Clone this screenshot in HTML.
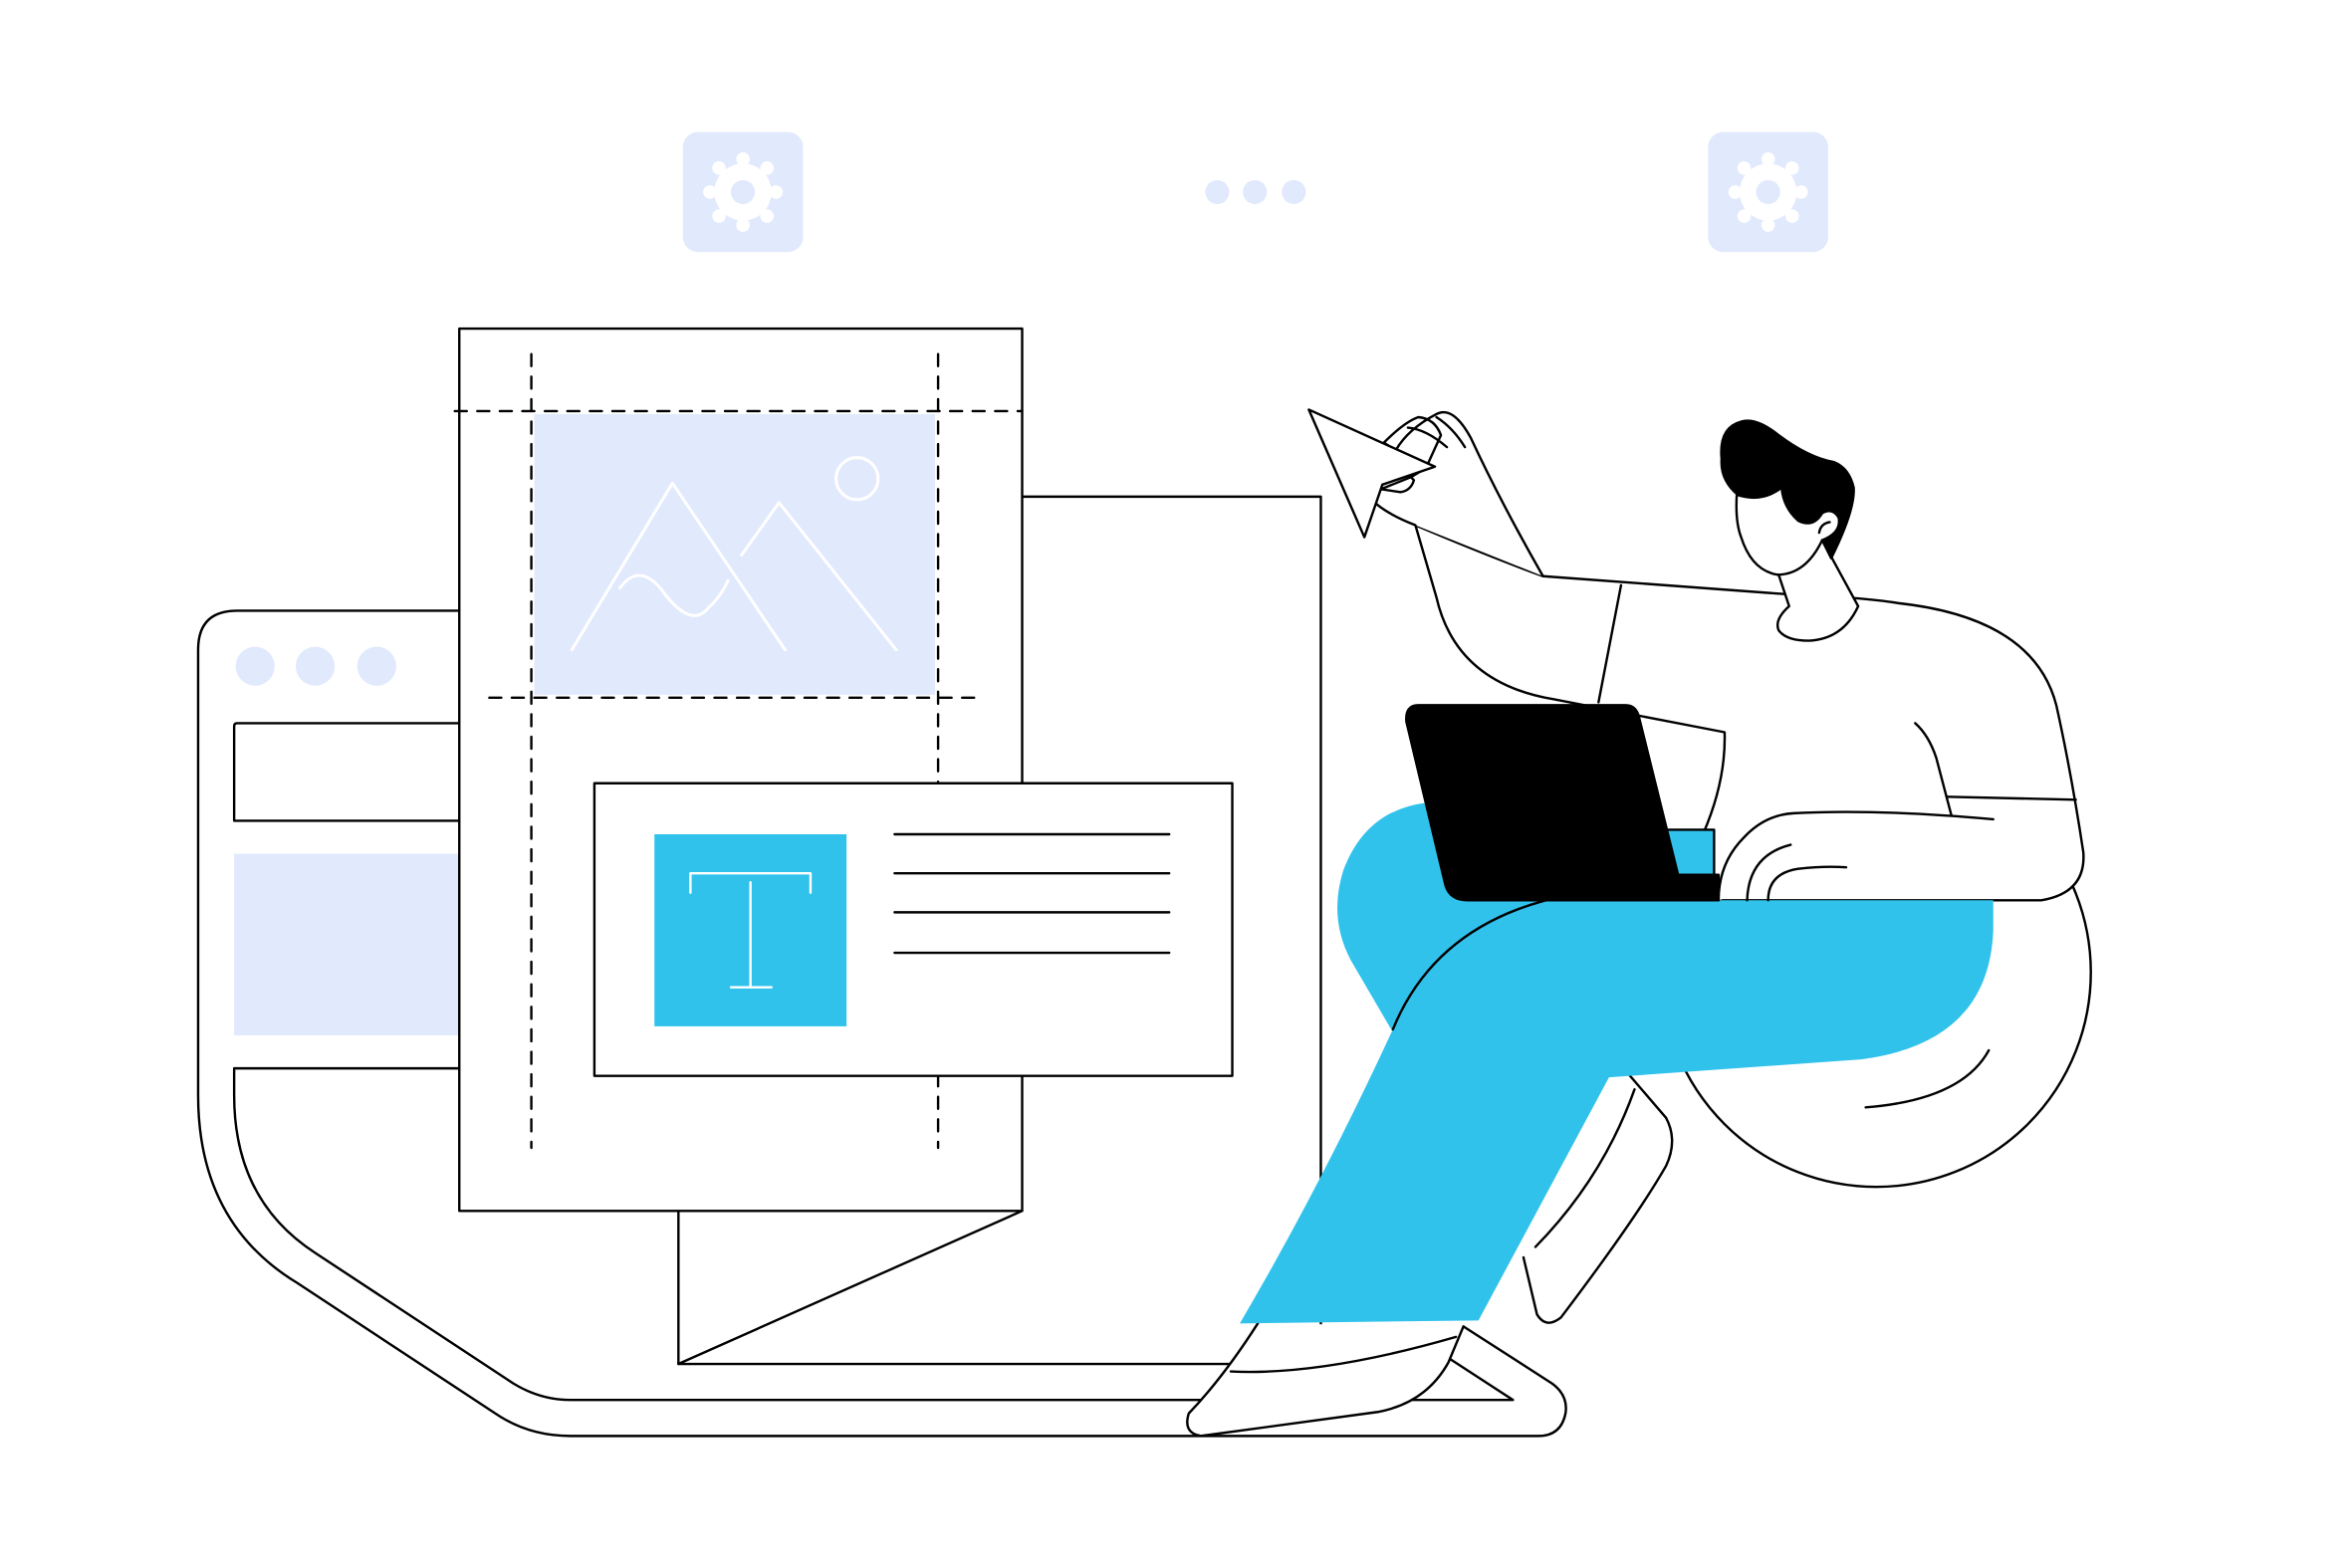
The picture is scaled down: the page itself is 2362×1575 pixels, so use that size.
<!DOCTYPE html>
<html><head><meta charset="utf-8"><style>html,body{margin:0;padding:0;background:#fff}svg{display:block}</style></head>
<body>
<svg width="2362" height="1575" viewBox="0 0 1567 1045" preserveAspectRatio="none" xmlns="http://www.w3.org/2000/svg" fill="none" stroke="#000" stroke-width="1.6" stroke-linejoin="round" stroke-linecap="round">
<!-- top icons -->
<g>
<rect x="455" y="88" width="80" height="80" rx="10" fill="#e1e9fd" stroke="none"/>
<rect x="1138" y="88" width="80" height="80" rx="10" fill="#e1e9fd" stroke="none"/>
<g id="g1" fill="#fff" stroke="none">
<circle cx="495" cy="128" r="19"/>
<circle cx="495" cy="106" r="4.5"/><circle cx="495" cy="150" r="4.5"/><circle cx="473" cy="128" r="4.5"/><circle cx="517" cy="128" r="4.5"/>
<circle cx="479" cy="112" r="4.5"/><circle cx="511" cy="112" r="4.5"/><circle cx="479" cy="144" r="4.5"/><circle cx="511" cy="144" r="4.5"/>
<circle cx="495" cy="128" r="8" fill="#e1e9fd"/>
</g>
<use href="#g1" transform="translate(683,0)"/>
<circle cx="811" cy="128" r="8" fill="#e1e9fd" stroke="none"/>
<circle cx="836" cy="128" r="8" fill="#e1e9fd" stroke="none"/>
<circle cx="862" cy="128" r="8" fill="#e1e9fd" stroke="none"/>
</g>
<!-- base device -->
<path d="M306 407 H158 Q132 407 132 433 V730 Q132 815 198 855 L330 942 Q352 957 380 957 H1025 Q1040 957 1043 942 Q1045 930 1034 922 L975 884" fill="#fff"/>
<path d="M306 712 H156 V730 Q156 800 210 835 L342 922 Q360 933 380 933 H1008 L965 905"/>
<circle cx="170" cy="444" r="13" fill="#e1e9fd" stroke="none"/>
<circle cx="210" cy="444" r="13" fill="#e1e9fd" stroke="none"/>
<circle cx="251" cy="444" r="13" fill="#e1e9fd" stroke="none"/>
<path d="M306 482 H158 Q156 482 156 484 V547 H306"/>
<rect x="156" y="569" width="150" height="121" fill="#e1e9fd" stroke="none"/>
<!-- back rect -->
<path d="M681 331 H880 V909 H452 V807" fill="#fff"/>
<path d="M452 909 L681 807"/>
<!-- main doc -->
<rect x="306" y="219" width="375" height="588" fill="#fff"/>
<rect x="356" y="276" width="267" height="187" fill="#e1e9fd" stroke="none"/>
<g stroke="#fff" stroke-width="2">
<path d="M381 433 L448 322 L523 433"/>
<path d="M494 370 L519 335 L597 433"/>
<path d="M413 392 Q425 375 440 392 Q460 420 472 405 Q480 398 485 387"/>
<circle cx="571" cy="319" r="14"/>
</g>
<g stroke-dasharray="8 7">
<path d="M354 236 V765"/><path d="M625 236 V765"/>
<path d="M303 274 H681"/><path d="M326 465 H653"/>
</g>
<!-- text card -->
<rect x="396" y="522" width="425" height="195" fill="#fff"/>
<rect x="436" y="556" width="128" height="128" fill="#31c2ec" stroke="none"/>
<g stroke="#fff" stroke-width="1.6"><path d="M460 595 V582 H540 V595"/><path d="M500 588 V658"/><path d="M487 658 H514"/></g>
<path d="M596 556 H779 M596 582 H779 M596 608 H779 M596 635 H779"/>
<!-- ball -->
<circle cx="1250" cy="648" r="143" fill="#fff"/>
<path d="M1243 738 Q1307 733 1325 700"/>
<!-- shin -->
<path d="M1080 710 L1110 745 Q1118 760 1110 777 Q1090 812 1040 878 Q1030 886 1024 876 L1015 838" fill="#fff"/>
<path d="M1089 726 Q1068 785 1023 831"/>
<!-- shoe -->
<path d="M838 882 Q815 918 792 942 Q788 955 800 957 L918 941 Q950 935 965 908 L975 884" fill="#fff"/>
<path d="M820 914 Q880 917 970 891"/>
<!-- shirt body -->
<path d="M1190 396 Q1240 398 1265 402 Q1355 412 1370 470 Q1380 515 1388 568 Q1390 595 1360 600 H1300 L1140 600 L1135 555 Q1150 520 1149 488 L1035 466 Q970 455 957 398 Q950 374 943 350 Q990 370 1028 384 Z" fill="#fff"/>
<path d="M1080 390 L1065 468"/>
<path d="M1276 482 Q1285 490 1290 505 L1300 543"/>
<path d="M1297 531 L1383 533"/>
<!-- blue legs -->
<path d="M950 535 Q910 540 895 580 Q885 612 900 640 L928 688 L1030 600 Z" fill="#31c2ec" stroke="none"/>
<rect x="1108" y="553" width="34" height="30" fill="#31c2ec"/>
<path d="M1030 600 H1328 V620 Q1325 695 1240 706 L1072 718 L985 880 L826 882 Q880 790 928 686 Q955 620 1030 600 Z" fill="#31c2ec" stroke="none"/>
<path d="M928 686 Q955 620 1030 600"/>
<!-- laptop -->
<path d="M945 470 H1083 Q1090 470 1092 478 L1118 583 H1145 V600 H978 Q966 600 963 590 L937 481 Q936 470 945 470 Z" fill="#000"/>
<!-- hand on knee -->
<path d="M1145 600 Q1145 575 1162 558 Q1176 543 1195 542 Q1250 539 1328 546" fill="#fff"/>
<path d="M1164 600 Q1165 570 1193 563"/>
<path d="M1178 600 Q1178 582 1198 579 Q1215 577 1230 578"/>
<!-- raised arm/hand -->
<path d="M943 350 Q925 343 916 335 Q912 329 920 326 L940 318 Q945 315 950 312 L960 290 Q956 279 945 278 Q936 281 922 295 L930 300 Q938 286 957 276 Q968 270 980 292 Q1000 335 1028 384" fill="#fff"/>
<path d="M964 298 Q950 286 938 285"/>
<path d="M976 298 Q968 285 957 278"/>
<path d="M920 326 L933 328 Q940 327 942 320 L940 318"/>
<path d="M872 273 L956 311 L921 323 L909 358 Z" fill="#fff"/>
<!-- neck/head -->
<path d="M1184 380 L1192 404 Q1182 413 1185 420 Q1190 427 1205 427 Q1228 426 1238 404 L1214 360" fill="#fff"/>
<path d="M1158 320 Q1155 345 1160 358 Q1167 380 1184 383 Q1203 383 1214 360" fill="#fff"/>
<path d="M1158 330 Q1146 320 1147 306 Q1145 285 1160 281 Q1170 278 1185 290 Q1205 305 1222 308 Q1232 312 1235 325 Q1236 340 1220 372 L1214 360 Q1227 355 1225 345 Q1221 338 1214 342 Q1208 352 1198 347 Q1188 338 1187 325 Q1174 335 1158 330 Z" fill="#000"/>
<path d="M1212 355 Q1213 349 1219 348"/>
</svg>
</body></html>
